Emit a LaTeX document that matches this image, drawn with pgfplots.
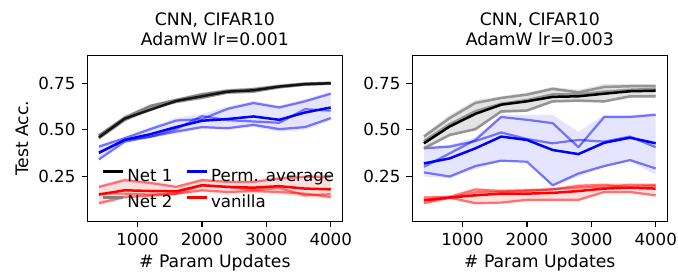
\documentclass[border=0pt]{standalone}
\usepackage{fontspec}
\setmainfont{DejaVu Sans}
\setsansfont{DejaVu Sans}
\usepackage{pgfplots}
\pgfplotsset{compat=1.18}
\usepackage{pgfplotstable}

% ---------- left panel (lr=0.001) ----------
\pgfplotstableread{
x    m1    m2    ga
400  0.460 0.470 0.455
800  0.560 0.565 0.552
1200 0.608 0.628 0.618
1600 0.655 0.660 0.650
2000 0.680 0.690 0.672
2400 0.705 0.710 0.700
2800 0.712 0.718 0.705
3200 0.732 0.735 0.728
3600 0.745 0.748 0.742
4000 0.750 0.752 0.748
}\LN
\pgfplotstableread{
x    m     a     b     c
400  0.377 0.410 0.379 0.342
800  0.446 0.455 0.446 0.437
1200 0.477 0.504 0.463 0.464
1600 0.515 0.550 0.504 0.491
2000 0.549 0.558 0.574 0.515
2400 0.558 0.613 0.552 0.509
2800 0.572 0.644 0.545 0.527
3200 0.554 0.620 0.538 0.504
3600 0.593 0.653 0.611 0.515
4000 0.620 0.694 0.603 0.563
}\LB
\pgfplotstableread{
x    m     a     b     c
400  0.153 0.194 0.158 0.107
800  0.176 0.230 0.158 0.140
1200 0.172 0.215 0.153 0.148
1600 0.170 0.194 0.158 0.158
2000 0.203 0.230 0.203 0.176
2400 0.194 0.221 0.194 0.167
2800 0.190 0.221 0.177 0.172
3200 0.198 0.239 0.188 0.167
3600 0.185 0.248 0.149 0.158
4000 0.181 0.248 0.155 0.140
}\LR
% band outlines: upper edge left to right, then lower edge right to left
\pgfplotstableread{
x    y
400  0.478
800  0.578
1200 0.638
1600 0.670
2000 0.700
2400 0.720
2800 0.728
3200 0.745
3600 0.756
4000 0.760
4000 0.742
3600 0.736
3200 0.722
2800 0.698
2400 0.693
2000 0.665
1600 0.643
1200 0.598
800  0.545
400  0.448
}\LNband
\pgfplotstableread{
x    y
400  0.420
800  0.465
1200 0.515
1600 0.565
2000 0.585
2400 0.625
2800 0.655
3200 0.630
3600 0.665
4000 0.705
4000 0.550
3600 0.500
3200 0.490
2800 0.515
2400 0.500
2000 0.505
1600 0.480
1200 0.455
800  0.430
400  0.335
}\LBband
\pgfplotstableread{
x    y
400  0.204
800  0.240
1200 0.225
1600 0.204
2000 0.240
2400 0.231
2800 0.231
3200 0.249
3600 0.258
4000 0.258
4000 0.130
3600 0.139
3200 0.157
2800 0.162
2400 0.157
2000 0.166
1600 0.148
1200 0.138
800  0.130
400  0.097
}\LRband
% ---------- right panel (lr=0.003) ----------
\pgfplotstableread{
x    m1    m2    ga    gb
400  0.428 0.440 0.464 0.401
800  0.518 0.530 0.563 0.473
1200 0.586 0.600 0.644 0.504
1600 0.635 0.640 0.671 0.599
2000 0.653 0.660 0.689 0.604
2400 0.677 0.690 0.720 0.653
2800 0.680 0.690 0.701 0.657
3200 0.694 0.705 0.730 0.653
3600 0.707 0.715 0.734 0.680
4000 0.710 0.720 0.734 0.680
}\RN
\pgfplotstableread{
x    m     a     b     c
400  0.320 0.302 0.401 0.272
800  0.347 0.374 0.410 0.250
1200 0.401 0.446 0.440 0.306
1600 0.464 0.569 0.486 0.335
2000 0.446 0.554 0.451 0.329
2400 0.392 0.536 0.428 0.203
2800 0.370 0.407 0.446 0.266
3200 0.431 0.569 0.437 0.306
3600 0.458 0.569 0.464 0.338
4000 0.428 0.581 0.407 0.293
}\RB
\pgfplotstableread{
x    m     a     b     c
400  0.122 0.137 0.107 0.125
800  0.137 0.140 0.137 0.135
1200 0.149 0.180 0.107 0.165
1600 0.158 0.172 0.110 0.168
2000 0.158 0.176 0.125 0.172
2400 0.162 0.180 0.125 0.182
2800 0.172 0.200 0.125 0.190
3200 0.185 0.205 0.167 0.195
3600 0.190 0.194 0.167 0.205
4000 0.185 0.200 0.149 0.205
}\RR
\pgfplotstableread{
x    y
400  0.475
800  0.580
1200 0.660
1600 0.680
2000 0.700
2400 0.730
2800 0.715
3200 0.745
3600 0.745
4000 0.745
4000 0.675
3600 0.672
3200 0.645
2800 0.650
2400 0.645
2000 0.595
1600 0.590
1200 0.495
800  0.465
400  0.395
}\RNband
\pgfplotstableread{
x    y
400  0.410
800  0.420
1200 0.460
1600 0.580
2000 0.580
2400 0.580
2800 0.490
3200 0.580
3600 0.580
4000 0.590
4000 0.260
3600 0.330
3200 0.300
2800 0.250
2400 0.195
2000 0.330
1600 0.330
1200 0.290
800  0.240
400  0.250
}\RBband
\pgfplotstableread{
x    y
400  0.145
800  0.150
1200 0.190
1600 0.182
2000 0.186
2400 0.192
2800 0.210
3200 0.215
3600 0.215
4000 0.215
4000 0.141
3600 0.159
3200 0.159
2800 0.117
2400 0.117
2000 0.117
1600 0.103
1200 0.100
800  0.128
400  0.100
}\RRband

\definecolor{mgray}{HTML}{808080}
\newcommand\tf{\fontsize{12}{14.8}\selectfont}
\newcommand\ttf{\fontsize{12.4}{14.6}\selectfont}

\pgfplotsset{
 cstyle/.style={
  scale only axis, width=183.6pt, height=119.5pt,
  xmin=220, xmax=4180, ymin=0.01, ymax=0.9,
  xtick={1000,2000,3000,4000}, ytick={0.25,0.5,0.75},
  tick align=outside, tick pos=left, major tick length=4.2pt,
  axis line style={line width=0.9pt},
  every tick/.style={black, line width=0.9pt},
  /pgf/number format/assume math mode=true,
  tick label style={font=\tf},
  xticklabel style={inner sep=0pt, anchor=north, yshift=-4.2pt, /pgf/number format/1000 sep={}},
  yticklabel style={inner sep=0pt, anchor=east, xshift=-4.2pt, /pgf/number format/.cd, fixed, fixed zerofill, precision=2},
  title style={font=\ttf, align=center, at={(0.5,1)}, anchor=south, inner sep=0pt, yshift=0.8pt},
  xlabel style={font=\ttf, at={(0.5,0)}, anchor=base, inner sep=0pt, yshift=-33.5pt},
  ylabel style={font=\ttf, at={(-0.2326,0.5)}, anchor=base, inner sep=0pt},
  xlabel={\# Param Updates},
  line join=round,
 },
 mline/.style={line width=1.8pt},
 rline/.style={line width=1.6pt, opacity=0.5},
}

\begin{document}
\begin{tikzpicture}
\useasboundingbox (0,0) rectangle (488.2pt,198pt);
\begin{axis}[cstyle, at={(62.9pt,38.7pt)}, anchor=south west,
  title={CNN, CIFAR10\\AdamW lr=0.001},
  ylabel={Test Acc.},
  legend columns=2,
  legend image code/.code={\draw[#1] (0pt,4.3pt) -- (14.4pt,4.3pt);},
  legend style={draw=none, fill=none, inner sep=0pt, outer sep=0pt,
    at={(0.0565,0.311)}, anchor=north west, row sep=7.3pt,
    nodes={inner sep=0pt, text height=8.8pt, text depth=2.6pt, font=\tf},
    /tikz/every odd column/.append style={column sep=2.2pt},
    /tikz/every even column/.append style={column sep=9.4pt}},
  legend cell align=left]
 \addplot[fill=blue, fill opacity=0.1, draw=none, forget plot] table[x=x,y=y]{\LBband};
 \addplot[fill=mgray, fill opacity=0.25, draw=none, forget plot] table[x=x,y=y]{\LNband};
 \addplot[fill=red, fill opacity=0.13, draw=none, forget plot] table[x=x,y=y]{\LRband};
 \addplot[blue, rline, forget plot] table[x=x,y=a]{\LB};
 \addplot[blue, rline, forget plot] table[x=x,y=b]{\LB};
 \addplot[blue, rline, forget plot] table[x=x,y=c]{\LB};
 \addplot[blue, mline, forget plot] table[x=x,y=m]{\LB};
 \addplot[mgray, mline, opacity=0.8, forget plot] table[x=x,y=ga]{\LN};
 \addplot[mgray, mline, forget plot] table[x=x,y=m2]{\LN};
 \addplot[black, mline, opacity=0.85, forget plot] table[x=x,y=m1]{\LN};
 \addplot[red, rline, forget plot] table[x=x,y=a]{\LR};
 \addplot[red, rline, forget plot] table[x=x,y=b]{\LR};
 \addplot[red, rline, forget plot] table[x=x,y=c]{\LR};
 \addplot[red, mline, forget plot] table[x=x,y=m]{\LR};
 \addlegendimage{black, mline}\addlegendentry{Net 1}
 \addlegendimage{blue, mline}\addlegendentry{Perm. average}
 \addlegendimage{mgray, mline}\addlegendentry{Net 2}
 \addlegendimage{red, mline}\addlegendentry{vanilla}
\end{axis}
\begin{axis}[cstyle, at={(296.9pt,38.7pt)}, anchor=south west,
  title={CNN, CIFAR10\\AdamW lr=0.003}]
 \addplot[fill=blue, fill opacity=0.1, draw=none, forget plot] table[x=x,y=y]{\RBband};
 \addplot[fill=mgray, fill opacity=0.22, draw=none, forget plot] table[x=x,y=y]{\RNband};
 \addplot[fill=red, fill opacity=0.12, draw=none, forget plot] table[x=x,y=y]{\RRband};
 \addplot[blue, rline, forget plot] table[x=x,y=a]{\RB};
 \addplot[blue, rline, forget plot] table[x=x,y=b]{\RB};
 \addplot[blue, rline, forget plot] table[x=x,y=c]{\RB};
 \addplot[blue, mline, forget plot] table[x=x,y=m]{\RB};
 \addplot[mgray, mline, opacity=0.8, forget plot] table[x=x,y=ga]{\RN};
 \addplot[mgray, mline, opacity=0.8, forget plot] table[x=x,y=gb]{\RN};
 \addplot[mgray, mline, opacity=0.8, forget plot] table[x=x,y=m2]{\RN};
 \addplot[black, mline, forget plot] table[x=x,y=m1]{\RN};
 \addplot[red, rline, forget plot] table[x=x,y=a]{\RR};
 \addplot[red, rline, forget plot] table[x=x,y=b]{\RR};
 \addplot[red, rline, forget plot] table[x=x,y=c]{\RR};
 \addplot[red, mline, forget plot] table[x=x,y=m]{\RR};
\end{axis}
\end{tikzpicture}
\end{document}
